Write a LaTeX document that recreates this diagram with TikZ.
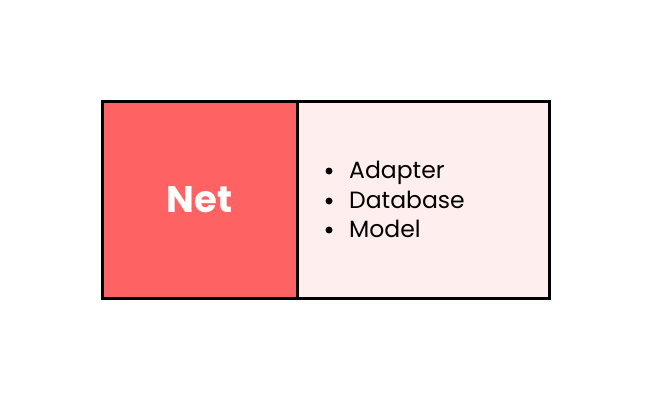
\documentclass[tikz,border=0pt]{standalone}
\usepackage{fontspec}
\setmainfont{Poppins}
\definecolor{netred}{HTML}{FF6262}
\definecolor{lightpink}{HTML}{FFEEEE}
\begin{document}
\begin{tikzpicture}[x=1pt,y=-1pt,
  box/.style={draw=black,line width=3pt,inner sep=0pt,minimum height=196pt},
  item/.style={anchor=base west,font=\fontsize{23.5}{28}\selectfont,inner sep=0pt},
  dotmark/.style={circle,fill=black,inner sep=0pt,minimum size=7pt}]
\useasboundingbox[fill=white] (0,0) rectangle (652,401);
\node[box,fill=lightpink,minimum width=252pt] (right) at (423,200) {};
\node[box,fill=netred,minimum width=195pt] (left) at (199.5,200) {};
\node[text=white,font=\fontsize{37}{44}\selectfont\bfseries] (net) at (left.center) {Net};
\node[item] (a) at (349,178) {Adapter};
\node[item] (b) at (349,208) {Database};
\node[item] (c) at (349,237) {Model};
\node[dotmark] (da) at (329,171) {};
\node[dotmark] (db) at (329,201) {};
\node[dotmark] (dc) at (329,230) {};
\end{tikzpicture}
\end{document}
